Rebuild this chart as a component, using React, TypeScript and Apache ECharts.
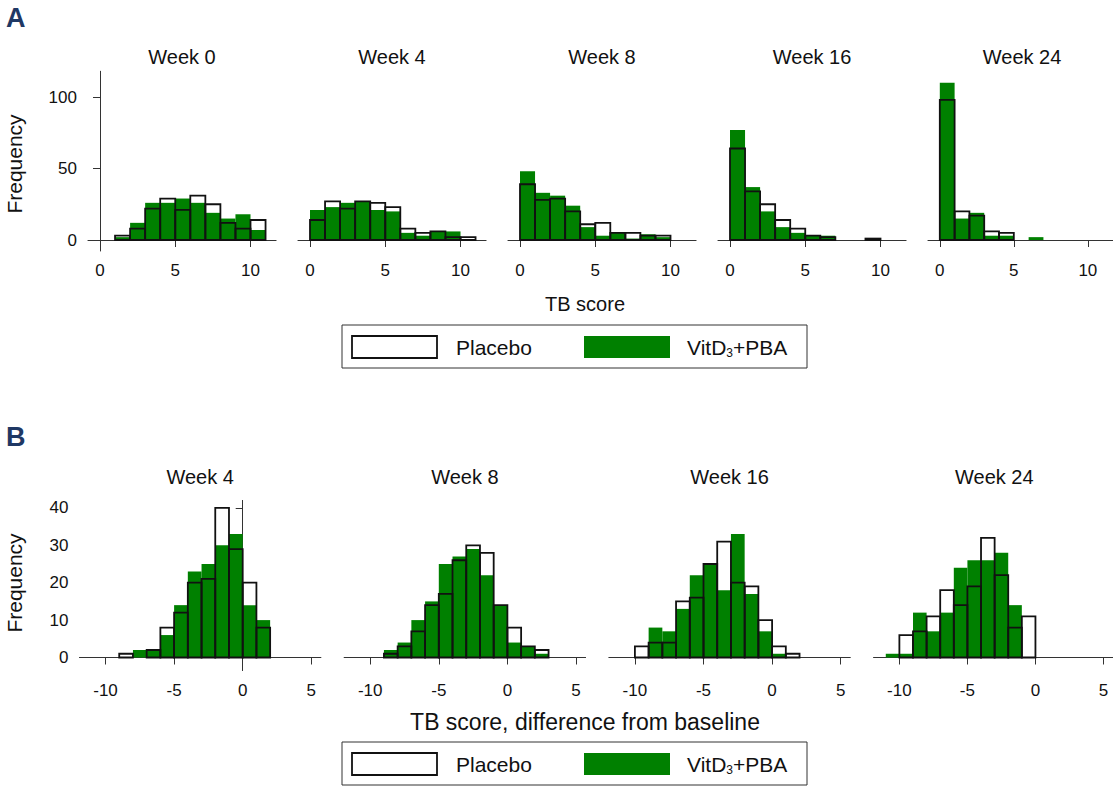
import React, { useEffect, useRef } from "react";
import * as echarts from "echarts";

// ---------------- Data ----------------
const weeksA = ["Week 0", "Week 4", "Week 8", "Week 16", "Week 24"];
const binStartA = [1, 0, 0, 0, 0];
const placeboA0 = [3, 8, 22, 29, 21, 31, 25, 12, 8, 14];
const vitdA0 = [2, 12, 26, 26, 29, 26, 19, 15, 18, 7];
const placeboA4 = [14, 27, 22, 27, 26, 23, 8, 5, 6, 2, 2];
const vitdA4 = [21, 23, 26, 27, 21, 20, 5, 3, 6, 6, 0];
const placeboA8 = [39, 28, 29, 20, 11, 12, 5, 5, 3, 3];
const vitdA8 = [48, 33, 31, 24, 9, 3, 5, 1, 4, 2];
const placeboA16 = [64, 34, 25, 14, 8, 3, 2, 0, 0, 1];
const vitdA16 = [77, 37, 20, 9, 5, 3, 3, 0, 0, 0];
const placeboA24 = [98, 20, 17, 6, 5, 0, 0];
const vitdA24 = [110, 15, 19, 3, 3, 0, 2];
const ticksAx = [0, 5, 10];
const ticksAy = [0, 50, 100];

const weeksB = ["Week 4", "Week 8", "Week 16", "Week 24"];
const binStartB = [-9, -9, -10, -11];
const placeboB4 = [1, 0, 2, 8, 12, 20, 21, 40, 29, 20, 8];
const vitdB4 = [0, 2, 2, 6, 14, 23, 25, 30, 33, 14, 10];
const placeboB8 = [1, 3, 7, 14, 17, 26, 30, 28, 14, 8, 3, 2];
const vitdB8 = [2, 4, 10, 15, 25, 27, 29, 22, 14, 4, 3, 1];
const placeboB16 = [3, 4, 4, 15, 16, 25, 31, 20, 19, 10, 3, 1];
const vitdB16 = [0, 8, 7, 13, 22, 25, 18, 33, 17, 7, 1, 0];
const placeboB24 = [0, 6, 7, 11, 18, 14, 19, 32, 22, 8, 11];
const vitdB24 = [1, 1, 12, 7, 12, 24, 26, 26, 28, 14, 0];
const ticksBx = [-10, -5, 0, 5];
const ticksBy = [0, 10, 20, 30, 40];

const placeboA = [placeboA0, placeboA4, placeboA8, placeboA16, placeboA24];
const vitdA = [vitdA0, vitdA4, vitdA8, vitdA16, vitdA24];
const placeboB = [placeboB4, placeboB8, placeboB16, placeboB24];
const vitdB = [vitdB4, vitdB8, vitdB16, vitdB24];

// ---------------- Style / layout ----------------
const FONT = '"Liberation Sans", Arial, Helvetica, sans-serif';
const GREEN = "#008000";
const NAVY = "#1F3864";
const AXIS = "#333333";
const TEXT = "#111111";

const LA = { x0: 100, pitch: 210, ppu: 15.05, xmin: -0.8, xmax: 11.7, y0: 240, ppuY: 1.43, ymin: -7.7, ymax: 118, titleGap: 14 };
const LB = { x0: 242.7, pitch: 264.7, ppu: 13.72, xmin: -11.9, xmax: 5.7, y0: 657.5, ppuY: 3.74, ymin: -3.5, ymax: 42, titleGap: 23 };

function toBins(start: number, counts: number[]) {
  const out: number[][] = [];
  counts.forEach((c, k) => {
    if (c > 0) out.push([start + k, start + k + 1, c]);
  });
  return out;
}

const renderFactory = (kind: "vitd" | "placebo") => (params: any, api: any) => {
  const a = api.coord([api.value(0), 0]);
  const b = api.coord([api.value(1), api.value(2)]);
  const shape = { x: a[0], y: b[1], width: b[0] - a[0], height: a[1] - b[1] };
  return {
    type: "rect",
    shape,
    style:
      kind === "vitd"
        ? { fill: GREEN }
        : { fill: "none", stroke: "#111111", lineWidth: 1.8 },
  };
};

function buildOption() {
  const grid: any[] = [];
  const xAxis: any[] = [];
  const yAxis: any[] = [];
  const series: any[] = [];
  const graphic: any[] = [];

  const axisCommon = {
    axisLine: { show: true, lineStyle: { color: AXIS, width: 1 } },
    axisTick: { show: true, inside: false, length: 7, lineStyle: { color: AXIS, width: 1 } },
    splitLine: { show: false },
  };

  const addRow = (
    L: any,
    titles: string[],
    starts: number[],
    plac: number[][],
    vit: number[][],
    xt: number[],
    yt: number[]
  ) => {
    titles.forEach((t, i) => {
      const gi = grid.length;
      const left = L.x0 + L.pitch * i + L.xmin * L.ppu;
      const width = (L.xmax - L.xmin) * L.ppu;
      const top = L.y0 - L.ymax * L.ppuY;
      const height = (L.ymax - L.ymin) * L.ppuY;
      grid.push({ left, top, width, height, containLabel: false });
      xAxis.push({
        type: "value",
        gridIndex: gi,
        min: L.xmin,
        max: L.xmax,
        ...axisCommon,
        axisTick: { ...axisCommon.axisTick, customValues: xt },
        axisLabel: { customValues: xt, margin: 11, color: TEXT, fontSize: 17, fontFamily: FONT },
      });
      yAxis.push({
        type: "value",
        gridIndex: gi,
        min: L.ymin,
        max: L.ymax,
        show: i === 0,
        ...axisCommon,
        axisTick: { ...axisCommon.axisTick, customValues: yt },
        axisLabel: { customValues: yt, margin: 11, color: TEXT, fontSize: 17, fontFamily: FONT },
      });
      series.push({
        type: "custom",
        name: "VitD3+PBA",
        xAxisIndex: gi,
        yAxisIndex: gi,
        renderItem: renderFactory("vitd"),
        encode: { x: [0, 1], y: 2 },
        data: toBins(starts[i], vit[i]),
        silent: true,
      });
      series.push({
        type: "custom",
        name: "Placebo",
        xAxisIndex: gi,
        yAxisIndex: gi,
        renderItem: renderFactory("placebo"),
        encode: { x: [0, 1], y: 2 },
        data: toBins(starts[i], plac[i]),
        silent: true,
      });
      graphic.push({
        type: "text",
        x: left + width / 2,
        y: top - L.titleGap,
        style: {
          text: t,
          fontSize: 20,
          fontFamily: FONT,
          fill: TEXT,
          textAlign: "center",
          textVerticalAlign: "middle",
        },
      });
    });
  };

  addRow(LA, weeksA, binStartA, placeboA, vitdA, ticksAx, ticksAy);
  addRow(LB, weeksB, binStartB, placeboB, vitdB, ticksBx, ticksBy);

  const text = (t: string, x: number, y: number, size: number) => ({
    type: "text",
    x,
    y,
    style: {
      text: t,
      fontSize: size,
      fontFamily: FONT,
      fill: TEXT,
      textAlign: "center",
      textVerticalAlign: "middle",
    },
  });

  // Panel letters
  graphic.push({ type: "text", x: 6, y: 18, style: { text: "A", fontSize: 27, fontWeight: "bold", fontFamily: FONT, fill: NAVY, textAlign: "left", textVerticalAlign: "middle" } });
  graphic.push({ type: "text", x: 6, y: 437, style: { text: "B", fontSize: 27, fontWeight: "bold", fontFamily: FONT, fill: NAVY, textAlign: "left", textVerticalAlign: "middle" } });

  // Axis titles
  graphic.push({ type: "text", x: 14, y: 164, rotation: Math.PI / 2, style: { text: "Frequency", fontSize: 21, fontFamily: FONT, fill: TEXT, textAlign: "center", textVerticalAlign: "middle" } });
  graphic.push({ type: "text", x: 14, y: 583, rotation: Math.PI / 2, style: { text: "Frequency", fontSize: 21, fontFamily: FONT, fill: TEXT, textAlign: "center", textVerticalAlign: "middle" } });
  graphic.push(text("TB score", 585, 304, 20));
  graphic.push(text("TB score, difference from baseline", 585, 722, 23));

  // Legends
  const legend = (top: number) => {
    graphic.push({ type: "rect", shape: { x: 342, y: top, width: 465, height: 43 }, style: { fill: "#ffffff", stroke: AXIS, lineWidth: 1 } });
    graphic.push({ type: "rect", shape: { x: 352, y: top + 11, width: 85, height: 22 }, style: { fill: "#ffffff", stroke: "#111111", lineWidth: 1.8 } });
    graphic.push({ type: "text", x: 456, y: top + 22, style: { text: "Placebo", fontSize: 21, fontFamily: FONT, fill: TEXT, textAlign: "left", textVerticalAlign: "middle" } });
    graphic.push({ type: "rect", shape: { x: 584, y: top + 11, width: 86, height: 22 }, style: { fill: GREEN } });
    graphic.push({
      type: "text",
      x: 687,
      y: top + 22,
      style: {
        text: "{m|VitD}{s|3}{m|+PBA}",
        fontFamily: FONT,
        fill: TEXT,
        textAlign: "left",
        textVerticalAlign: "middle",
        rich: {
          m: { fontSize: 21, fontFamily: FONT, fill: TEXT, lineHeight: 24 },
          s: { fontSize: 12, fontFamily: FONT, fill: TEXT, lineHeight: 12, verticalAlign: "bottom" },
        },
      },
    });
  };
  legend(325);
  legend(742);

  return {
    animation: false,
    backgroundColor: "#ffffff",
    grid,
    xAxis,
    yAxis,
    series,
    graphic,
  };
}

export default function App() {
  const ref = useRef<HTMLDivElement>(null);
  useEffect(() => {
    const chart = echarts.init(ref.current!, null, { renderer: "svg" });
    chart.setOption(buildOption() as any);
    return () => chart.dispose();
  }, []);
  return (
    <div
      ref={ref}
      style={{ position: "absolute", left: 0, top: 0, width: 1113, height: 787, background: "#fff" }}
    />
  );
}
